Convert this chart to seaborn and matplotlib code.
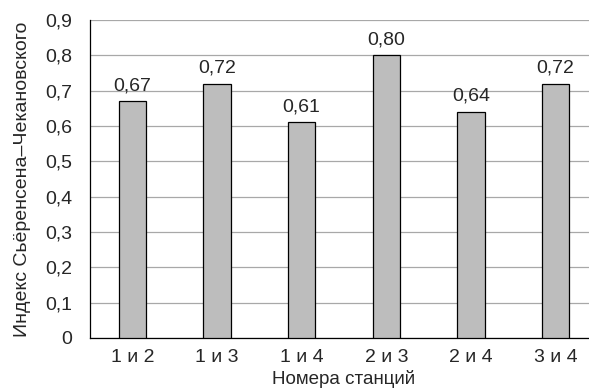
import matplotlib
matplotlib.use("Agg")
import matplotlib.pyplot as plt
import seaborn as sns
import pandas as pd
from matplotlib.ticker import FixedLocator, FuncFormatter

pairs = ["1 и 2", "1 и 3", "1 и 4", "2 и 3", "2 и 4", "3 и 4"]
index_values = [0.67, 0.72, 0.61, 0.80, 0.64, 0.72]
y_ticks = [0.0, 0.1, 0.2, 0.3, 0.4, 0.5, 0.6, 0.7, 0.8, 0.9]

sns.set_style("white")
plt.rcParams["font.family"] = ["Liberation Sans", "DejaVu Sans"]
plt.rcParams["font.size"] = 14

df = pd.DataFrame({"pair": pairs, "value": index_values})

fig = plt.figure(figsize=(5.89, 3.92), dpi=100)
# axes extends a bit past the right edge like in the source
ax = fig.add_axes([90 / 589, 1 - 338 / 392, 508 / 589, 318 / 392])

sns.barplot(data=df, x="pair", y="value", color="#bdbdbd", saturation=1,
            width=0.32, edgecolor="black", linewidth=0.9, ax=ax, zorder=3)

ax.set_ylim(0, 0.9)
ax.set_xlim(-0.5, len(pairs) - 0.5)
ax.set_yticks(y_ticks)
ax.yaxis.set_major_formatter(FuncFormatter(
    lambda v, p: "0" if v == 0 else f"{v:.1f}".replace(".", ",")))
ax.yaxis.grid(True, color="#a8a8a8", linewidth=0.9, zorder=0)
ax.set_axisbelow(True)

# category labels centred, tick marks between categories
ax.xaxis.set_major_locator(FixedLocator([i - 0.5 for i in range(len(pairs) + 1)]))
ax.xaxis.set_major_formatter(FuncFormatter(lambda v, p: ""))
ax.xaxis.set_minor_locator(FixedLocator(list(range(len(pairs)))))
ax.set_xticklabels(pairs, minor=True)
ax.tick_params(axis="x", which="major", direction="inout", length=10, width=0.9, color="black")
ax.tick_params(axis="x", which="minor", length=0, pad=8)
ax.tick_params(axis="y", direction="out", length=5, width=0.9, color="black", pad=8)

for s in ["top", "right"]:
    ax.spines[s].set_visible(False)
for s in ["left", "bottom"]:
    ax.spines[s].set_color("black")
    ax.spines[s].set_linewidth(0.9)

for i, v in enumerate(index_values):
    ax.text(i, v + 0.02, f"{v:.2f}".replace(".", ","), ha="center", va="bottom")

ax.set_xlabel("Номера станций", labelpad=3, fontsize=13.5)
ax.set_ylabel("Индекс Сьёренсена–Чекановского", labelpad=10)

fig.savefig("out.png", dpi=100)
